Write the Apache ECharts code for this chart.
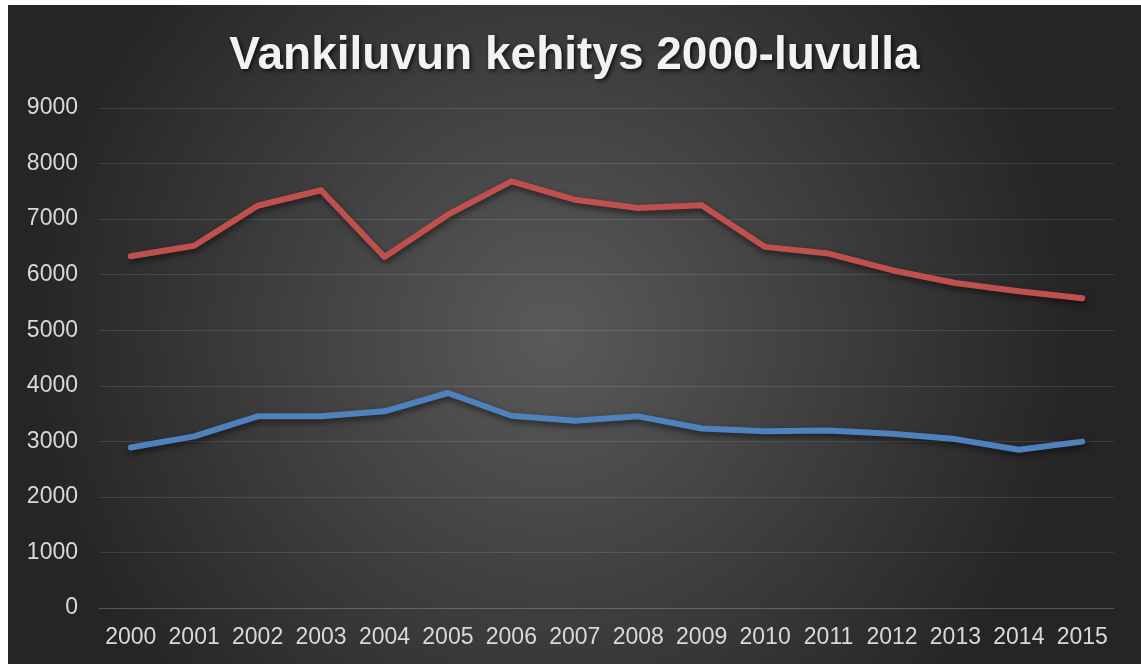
<!DOCTYPE html>
<html>
<head>
<meta charset="utf-8">
<title>Vankiluvun kehitys 2000-luvulla</title>
<script src="https://cdn.jsdelivr.net/npm/echarts@6/dist/echarts.min.js"></script>
<style>
  html, body { margin: 0; padding: 0; background: #fff; }
  #chart { position: absolute; left: 8px; top: 5px; width: 1133px; height: 659px; }
</style>
</head>
<body>
<div id="chart"></div>
<script>
// vuodet
const years = ['2000', '2001', '2002', '2003', '2004', '2005', '2006', '2007',
  '2008', '2009', '2010', '2011', '2012', '2013', '2014', '2015'];
// punainen sarja
const redValues = [6330, 6520, 7240, 7520, 6320, 7080, 7680, 7350,
  7200, 7250, 6500, 6380, 6080, 5850, 5700, 5575];
// sininen sarja
const blueValues = [2890, 3090, 3450, 3450, 3540, 3870, 3460, 3370,
  3450, 3230, 3180, 3195, 3135, 3040, 2850, 2995];
// y-akselin asteikko
const yMin = 0, yMax = 9000, yStep = 1000;

const chart = echarts.init(document.getElementById('chart'));

const lineSeries = (name, data, color) => ({
  name: name,
  type: 'line',
  data: data,
  symbol: 'none',
  smooth: false,
  lineStyle: {
    width: 6,
    color: color,
    cap: 'round',
    join: 'round',
    shadowColor: 'rgba(0,0,0,0.55)',
    shadowBlur: 6,
    shadowOffsetX: 1,
    shadowOffsetY: 3
  },
  itemStyle: { color: color },
  animation: false
});

chart.setOption({
  backgroundColor: {
    type: 'radial',
    x: 0.48, y: 0.5, r: 0.8,
    colorStops: [
      { offset: 0, color: '#5a5a5a' },
      { offset: 1, color: '#252525' }
    ]
  },
  title: {
    text: 'Vankiluvun kehitys 2000-luvulla',
    left: 'center',
    top: 23,
    textStyle: {
      color: '#f2f2f2',
      fontFamily: 'Liberation Sans, Arial, sans-serif',
      fontWeight: 'bold',
      fontSize: 46,
      textShadowColor: 'rgba(0,0,0,0.7)',
      textShadowBlur: 4,
      textShadowOffsetX: 2,
      textShadowOffsetY: 2
    }
  },
  legend: { show: false },
  grid: { left: 91, right: 27, top: 103, bottom: 56, containLabel: false },
  xAxis: {
    type: 'category',
    data: years,
    boundaryGap: true,
    axisLine: { show: true, lineStyle: { color: 'rgba(255,255,255,0.13)', width: 1 } },
    axisTick: { show: false },
    axisLabel: {
      color: '#d9d9d9',
      fontFamily: 'Liberation Sans, Arial, sans-serif',
      fontSize: 23,
      margin: 18,
      interval: 0
    }
  },
  yAxis: {
    type: 'value',
    min: yMin,
    max: yMax,
    interval: yStep,
    axisLine: { show: false },
    axisTick: { show: false },
    splitLine: { lineStyle: { color: 'rgba(255,255,255,0.11)', width: 1 } },
    axisLabel: {
      color: '#d9d9d9',
      fontFamily: 'Liberation Sans, Arial, sans-serif',
      fontSize: 23,
      margin: 21,
      formatter: (v) => String(v)
    }
  },
  series: [
    lineSeries('Vankiluku', redValues, '#c0504d'),
    lineSeries('Vankeja', blueValues, '#4f81bd')
  ]
});

window.onresize = () => {
  chart.resize();
};
</script>
</body>
</html>
